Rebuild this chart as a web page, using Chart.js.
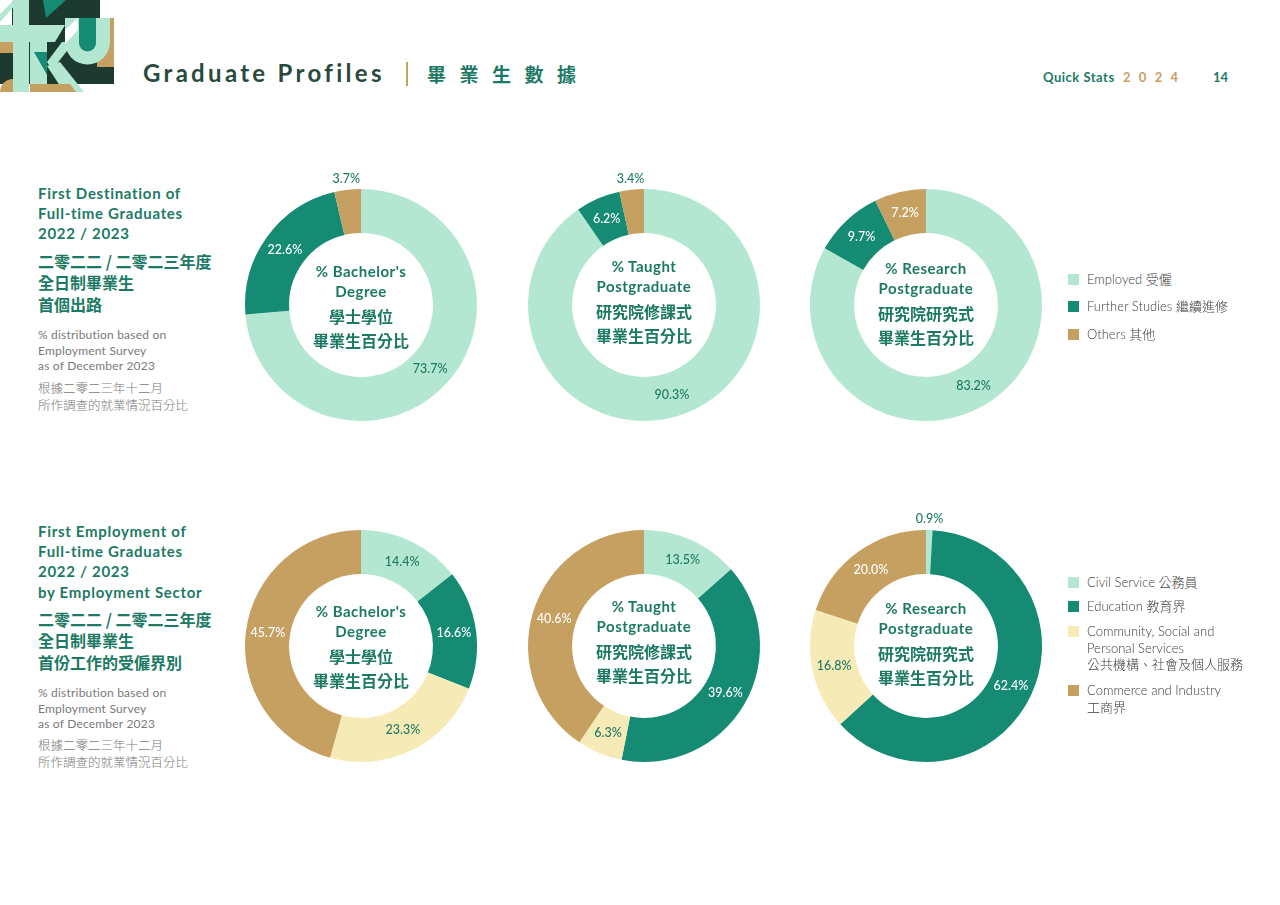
<!DOCTYPE html>
<html>
<head>
<meta charset="utf-8">
<script src="https://cdn.jsdelivr.net/npm/chart.js@4"></script>
<style>
  html, body { margin:0; padding:0; background:#fff; }
  body { width:1280px; height:905px; position:relative; overflow:hidden;
         font-family: "Lato", "Noto Sans CJK TC", sans-serif; }
  .abs { position:absolute; white-space:nowrap; }
  .ttl { color:#1c7a64; font-weight:700; font-size:15px; line-height:20.2px; letter-spacing:0.7px; }
  .zh  { color:#1c7a64; font-weight:700; font-size:16px; line-height:21.3px; font-family:"Noto Sans CJK TC", sans-serif; }
  .gr  { color:#7a7a7a; font-size:12px; line-height:15.5px; font-weight:400; letter-spacing:0.2px; }
  .grz { color:#7a7a7a; font-size:12.5px; line-height:16.5px; font-family:"Noto Sans CJK TC", sans-serif; font-weight:300; }
  .ctr { text-align:center; color:#1c7a64; width:160px; }
  .ctr .en { font-weight:700; font-size:15px; line-height:20px; letter-spacing:0.5px; font-family:"Lato", sans-serif; }
  .ctr .cz { font-weight:700; font-size:16px; line-height:24px; font-family:"Noto Sans CJK TC", sans-serif; }
  .cz1 { margin-top:3px; }
  canvas { position:absolute; }
  .lg { position:absolute; font-size:13px; color:#3d3d3d; line-height:16.5px; font-weight:300; white-space:nowrap; }
  .lg .sq { position:absolute; left:-19px; top:3px; width:11px; height:11px; }
</style>
</head>
<body>
<!-- logo -->
<svg class="abs" style="left:0;top:0" width="125" height="92" viewBox="0 0 125 92">
  <rect x="12" y="0" width="88" height="70" fill="#1d3a31"/>
  <rect x="0" y="63" width="114" height="21" fill="#1d3a31"/>
  <polygon points="0,14 14,0 0,0" fill="#ffffff"/>
  <polygon points="0,14 14,0 20,0 0,22" fill="#b4e7d2"/>
  <polygon points="43,0 66,0 46,18" fill="#168b73"/>
  <rect x="0" y="42" width="13" height="11" fill="#c6a061"/>
  <rect x="0" y="53" width="13" height="12" fill="#1d3a31"/>
  <rect x="13" y="0" width="16" height="92" fill="#b4e7d2"/>
  <polygon points="0,25 65,25 55,42 0,42" fill="#b4e7d2"/>
  <rect x="30" y="42" width="17" height="50" fill="#b4e7d2"/>
  <polygon points="34,52 47,52 47,75" fill="#168b73"/>
  <polygon points="47,66 60,62 84,92 64,92" fill="#b4e7d2"/>
  <polygon points="47,62 62,42 74,42 52,70" fill="#b4e7d2"/>
  <rect x="97" y="18" width="17" height="49" fill="#c6a061"/>
  <path d="M65 18 H110 V42 A22.5 22.5 0 0 1 65 42 Z" fill="#b4e7d2"/>
  <polygon points="65,30 78,18 78,30 65,44" fill="#ffffff"/>
  <path d="M79 18 H96 V43 A8.5 8.5 0 0 1 79 43 Z" fill="#168b73"/>
  <path d="M0 92 A13 13 0 0 1 13 79 L13 92 Z" fill="#c6a061"/>
  <polygon points="30,84 70,84 76,92 30,92" fill="#c6a061"/>
</svg>

<div class="abs" style="left:143px;top:58px;font-size:24px;font-weight:700;color:#2a4a40;letter-spacing:3.3px;line-height:30px;">Graduate Profiles</div>
<div class="abs" style="left:406px;top:62px;width:2px;height:24px;background:#c6a061;"></div>
<div class="abs" style="left:427px;top:60px;font-size:19px;font-weight:700;color:#1c7a64;letter-spacing:13.5px;line-height:28px;font-family:'Noto Sans CJK TC',sans-serif;">畢業生數據</div>

<div class="abs" style="left:1043px;top:68px;font-size:13px;font-weight:700;color:#1c7a64;line-height:18px;letter-spacing:0.5px;">Quick Stats</div>
<div class="abs" style="left:1123px;top:68px;font-size:13px;font-weight:700;color:#c6a061;line-height:18px;letter-spacing:8.3px;">2024</div>
<div class="abs" style="left:1213px;top:68px;font-size:13px;font-weight:700;color:#1c7a64;line-height:18px;">14</div>

<!-- left text block 1 -->
<div class="abs ttl" style="left:38px;top:183px;">First Destination of<br>Full-time Graduates<br>2022 / 2023</div>
<div class="abs zh" style="left:38px;top:251px;">二零二二 / 二零二三年度<br>全日制畢業生<br>首個出路</div>
<div class="abs gr" style="left:38px;top:327px;">% distribution based on<br>Employment Survey<br>as of December 2023</div>
<div class="abs grz" style="left:38px;top:380px;">根據二零二三年十二月<br>所作調查的就業情況百分比</div>

<!-- left text block 2 -->
<div class="abs ttl" style="left:38px;top:521px;">First Employment of<br>Full-time Graduates<br>2022 / 2023<br>by Employment Sector</div>
<div class="abs zh" style="left:38px;top:609px;">二零二二 / 二零二三年度<br>全日制畢業生<br>首份工作的受僱界別</div>
<div class="abs gr" style="left:38px;top:685px;">% distribution based on<br>Employment Survey<br>as of December 2023</div>
<div class="abs grz" style="left:38px;top:737px;">根據二零二三年十二月<br>所作調查的就業情況百分比</div>

<canvas id="c1" width="300" height="300" style="left:211px;top:155px"></canvas>
<canvas id="c2" width="300" height="300" style="left:494px;top:155px"></canvas>
<canvas id="c3" width="300" height="300" style="left:776px;top:155px"></canvas>
<canvas id="c4" width="300" height="300" style="left:211px;top:496px"></canvas>
<canvas id="c5" width="300" height="300" style="left:494px;top:496px"></canvas>
<canvas id="c6" width="300" height="300" style="left:776px;top:496px"></canvas>

<!-- centre texts -->
<div class="abs ctr" style="left:281px;top:261px;"><div class="en">% Bachelor's<br>Degree</div><div class="cz cz1">學士學位<br>畢業生百分比</div></div>
<div class="abs ctr" style="left:564px;top:256px;"><div class="en">% Taught<br>Postgraduate</div><div class="cz cz1">研究院修課式<br>畢業生百分比</div></div>
<div class="abs ctr" style="left:846px;top:258px;"><div class="en">% Research<br>Postgraduate</div><div class="cz cz1">研究院研究式<br>畢業生百分比</div></div>
<div class="abs ctr" style="left:281px;top:601px;"><div class="en">% Bachelor's<br>Degree</div><div class="cz cz1">學士學位<br>畢業生百分比</div></div>
<div class="abs ctr" style="left:564px;top:596px;"><div class="en">% Taught<br>Postgraduate</div><div class="cz cz1">研究院修課式<br>畢業生百分比</div></div>
<div class="abs ctr" style="left:846px;top:598px;"><div class="en">% Research<br>Postgraduate</div><div class="cz cz1">研究院研究式<br>畢業生百分比</div></div>

<div id="leg1"></div>
<div id="leg2"></div>

<script>
// ---- data ----
const destCategories = ["Employed 受僱", "Further Studies 繼續進修", "Others 其他"];
const destBachelor = [73.7, 22.6, 3.7];
const destTaught   = [90.3, 6.2, 3.4];
const destResearch = [83.2, 9.7, 7.2];

const sectorCategories = ["Civil Service 公務員", "Education 教育界",
  "Community, Social and<br>Personal Services<br>公共機構、社會及個人服務", "Commerce and Industry<br>工商界"];
const sectorBachelor = [14.4, 16.6, 23.3, 45.7];
const sectorTaught   = [13.5, 39.6, 6.3, 40.6];
const sectorResearch = [0.9, 62.4, 16.8, 20.0];

// ---- styles ----
const MINT = "#b4e7d2", TEAL = "#168b73", GOLD = "#c6a061", PALE = "#f6ebb6";
const DARK = "#1c7a64";
const destColors = [MINT, TEAL, GOLD];
const destLabelColors = [DARK, "#ffffff", "#ffffff"];
const sectorColors = [MINT, TEAL, PALE, GOLD];
const sectorLabelColors = [DARK, "#ffffff", DARK, "#ffffff"];

const segLabels = {
  id: 'segLabels',
  afterDatasetsDraw(chart) {
    const ctx = chart.ctx;
    const meta = chart.getDatasetMeta(0);
    const ds = chart.data.datasets[0];
    ctx.save();
    ctx.font = "500 12.5px Lato, sans-serif";
    ctx.textAlign = "center";
    ctx.textBaseline = "middle";
    meta.data.forEach((arc, i) => {
      const p = arc.getProps(['x','y','startAngle','endAngle','innerRadius','outerRadius'], true);
      const mid = (p.startAngle + p.endAngle) / 2;
      const v = ds.data[i];
      const outside = v < 5;
      const r = outside ? p.outerRadius + 11 : (p.innerRadius + p.outerRadius) / 2;
      ctx.fillStyle = outside ? DARK : ds.labelColors[i];
      ctx.fillText(v.toFixed(1) + "%", p.x + Math.cos(mid) * r, p.y + Math.sin(mid) * r);
    });
    ctx.restore();
  }
};

function donut(id, labels, values, colors, labelColors) {
  new Chart(document.getElementById(id), {
    type: 'doughnut',
    data: { labels: labels, datasets: [{ data: values, backgroundColor: colors, borderWidth: 0, labelColors: labelColors }] },
    options: {
      responsive: false, animation: false, cutout: '62%',
      layout: { padding: 34 },
      plugins: { legend: { display: false }, tooltip: { enabled: false } }
    },
    plugins: [segLabels]
  });
}
donut('c1', destCategories, destBachelor, destColors, destLabelColors);
donut('c2', destCategories, destTaught, destColors, destLabelColors);
donut('c3', destCategories, destResearch, destColors, destLabelColors);
donut('c4', sectorCategories, sectorBachelor, sectorColors, sectorLabelColors);
donut('c5', sectorCategories, sectorTaught, sectorColors, sectorLabelColors);
donut('c6', sectorCategories, sectorResearch, sectorColors, sectorLabelColors);

// ---- legends ----
function legend(elId, cats, colors, tops) {
  const el = document.getElementById(elId);
  cats.forEach((c, i) => {
    const d = document.createElement('div');
    d.className = 'lg';
    d.style.left = '1087px';
    d.style.top = tops[i] + 'px';
    d.innerHTML = '<span class="sq" style="background:' + colors[i] + '"></span>' + c;
    el.appendChild(d);
  });
}
legend('leg1', destCategories, destColors, [271, 298, 326]);
legend('leg2', sectorCategories, sectorColors, [574, 598, 623, 682]);
</script>
</body>
</html>
